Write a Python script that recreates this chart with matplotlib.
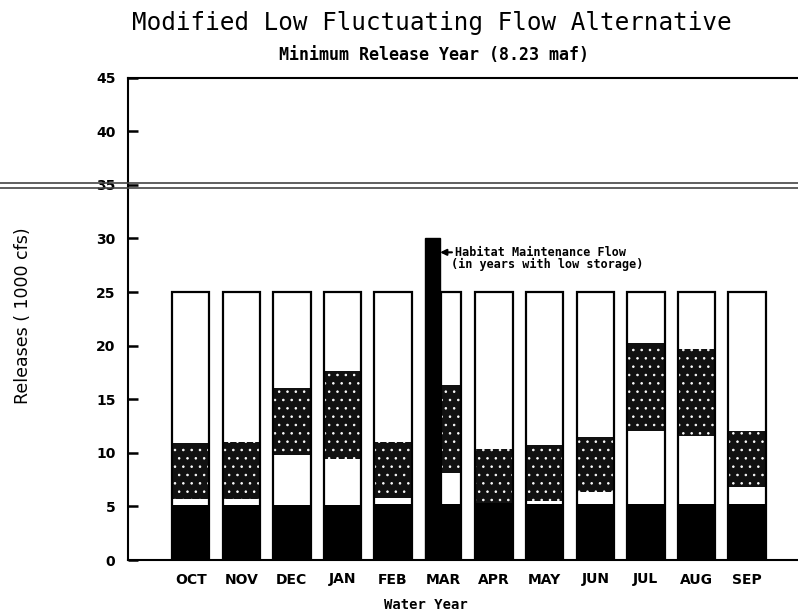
import matplotlib.pyplot as plt
from matplotlib.lines import Line2D
import numpy as np

plt.rcParams['hatch.color'] = 'white'
plt.rcParams['hatch.linewidth'] = 0.6

months = ['OCT', 'NOV', 'DEC', 'JAN', 'FEB', 'MAR',
          'APR', 'MAY', 'JUN', 'JUL', 'AUG', 'SEP']
# tops of each stacked band (1000 cfs)
base_top = [5.1, 5.1, 5.1, 5.1, 5.2, 5.2, 5.3, 5.2, 5.2, 5.2, 5.2, 5.2]
low_top = [5.7, 5.7, 9.8, 9.4, 5.8, 8.1, 5.3, 5.5, 6.3, 12.0, 11.6, 6.8]
fluct_top = [10.9, 11.0, 16.0, 17.6, 11.0, 16.3, 10.4, 10.7, 11.5, 20.2, 19.7, 12.0]
max_release = [25, 25, 25, 25, 25, 25, 25, 25, 25, 25, 25, 25]
hmf_month = 'MAR'
hmf_flow = 30
yticks = [0, 5, 10, 15, 20, 25, 30, 35, 40, 45]

W, H = 798, 612
fig = plt.figure(figsize=(W / 100, H / 100), dpi=100)
# axes right edge runs off the scanned page
ax = fig.add_axes([128 / W, 1 - 560 / H, 700 / W, (560 - 77.6) / H])

x = np.arange(len(months), dtype=float)
width = np.full(len(months), 0.74)
k = months.index(hmf_month)
# the habitat flow bar takes the left part of its month slot
x[k] = 5.15
width[k] = 0.40

base_top = np.array(base_top)
low_top = np.array(low_top)
fluct_top = np.array(fluct_top)
max_release = np.array(max_release)

ax.bar(x, base_top, width, color='black', linewidth=0)
ax.bar(x, low_top - base_top, width, bottom=base_top, color='white', linewidth=0)
ax.bar(x, fluct_top - low_top, width, bottom=low_top, color='#111111',
       hatch='..', edgecolor='white', linewidth=0)
ax.bar(x, max_release - fluct_top, width, bottom=fluct_top, color='white', linewidth=0)
ax.bar(x, max_release, width, fill=False, edgecolor='black', linewidth=1.6)

hx = k - 0.22
ax.bar([hx], [hmf_flow], 0.30, color='black', edgecolor='black', linewidth=1)

ax.annotate('Habitat Maintenance Flow', xy=(hx + 0.15, 28.7), xytext=(5.22, 28.7),
            ha='left', va='center', family='DejaVu Sans Mono', weight='bold', fontsize=8.5,
            arrowprops=dict(arrowstyle='-|>', color='black', lw=1.5,
                            shrinkA=0, shrinkB=0, mutation_scale=9))
ax.text(5.14, 27.6, '(in years with low storage)', ha='left', va='center',
        family='DejaVu Sans Mono', weight='bold', fontsize=8.5)

ax.set_xlim(-1.24, 12.6)
ax.set_ylim(0, 45)
ax.set_yticks(yticks)
ax.set_xticks(np.arange(len(months)))
ax.set_xticklabels(months, fontsize=10, weight='bold')
ax.tick_params(axis='y', direction='in', length=7, width=1.8, labelsize=10, pad=9)
ax.tick_params(axis='x', length=0, pad=9)
for lab in ax.get_yticklabels():
    lab.set_fontweight('bold')
for s in ['left', 'bottom', 'top']:
    ax.spines[s].set_linewidth(1.5)
ax.spines['right'].set_visible(False)

fig.text(432 / W, 1 - 23 / H, 'Modified Low Fluctuating Flow Alternative',
         ha='center', va='center', family='DejaVu Sans Mono', fontsize=17.5)
fig.text(434 / W, 1 - 55 / H, 'Minimum Release Year (8.23 maf)',
         ha='center', va='center', family='DejaVu Sans Mono', weight='bold', fontsize=12)
fig.text(23 / W, 1 - 316 / H, 'Releases ( 1000 cfs)', rotation=90,
         ha='center', va='center', fontsize=12.5)
fig.text(426 / W, 1 - 605 / H, 'Water Year', ha='center', va='center',
         family='DejaVu Sans Mono', weight='bold', fontsize=10)

# double fold line across the scanned page
for yy in (183, 187.5):
    fig.add_artist(Line2D([0, 1], [1 - yy / H, 1 - yy / H], color='#444444', lw=1.2))

fig.savefig('out.png', dpi=100)
